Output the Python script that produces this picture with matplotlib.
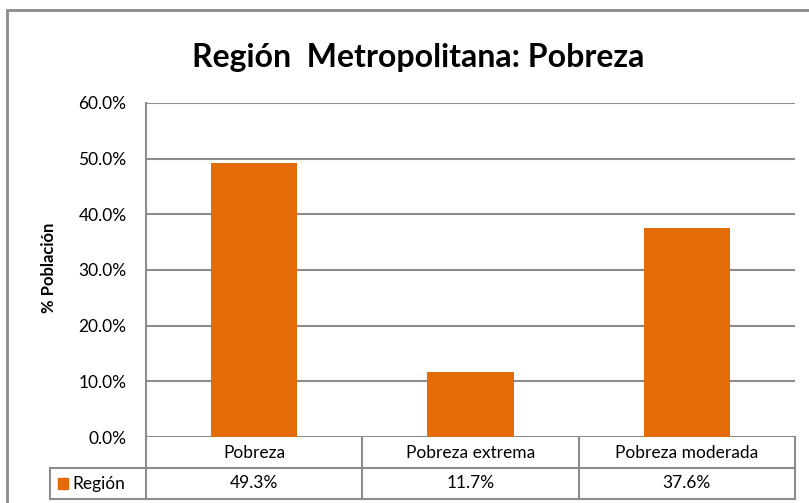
import matplotlib
matplotlib.use("Agg")
import matplotlib.pyplot as plt
import matplotlib.transforms as mtransforms
from matplotlib.patches import Rectangle

plt.rcParams['font.family'] = ['Lato', 'DejaVu Sans']

# datos
categorias = ['Pobreza', 'Pobreza extrema', 'Pobreza moderada']
valores = [0.493, 0.117, 0.376]
serie = 'Región'
yticks = [0.0, 0.1, 0.2, 0.3, 0.4, 0.5, 0.6]

naranja = '#E36C09'
gris = '#8C8C8C'

W, H = 809, 503
fig = plt.figure(figsize=(W / 100, H / 100), dpi=100)
ax = fig.add_axes([146 / W, (H - 437) / H, (795 - 146) / W, (437 - 103) / H])

x = range(len(categorias))
ax.bar(x, valores, width=0.4, color=naranja, zorder=3)
ax.set_xlim(-0.5, len(categorias) - 0.5)
ax.set_ylim(0, 0.6)
ax.set_yticks(yticks)
ax.set_yticklabels(['%.1f%%' % (v * 100) for v in yticks], fontsize=12.5)
ax.tick_params(axis='y', length=0, pad=14)
ax.set_xticks([])
ax.grid(axis='y', color=gris, lw=1.5, zorder=0)
for s in ['top', 'right', 'bottom']:
    ax.spines[s].set_visible(False)
ax.spines['left'].set_color(gris)
ax.spines['left'].set_linewidth(1.5)

# tabla de datos bajo el gráfico
tr = mtransforms.blended_transform_factory(ax.transData, ax.transAxes)
h = 31 / 334.0
n = len(categorias)
izq = -0.5 - 96 / 216.0
kw = dict(color=gris, lw=1.5, transform=tr, clip_on=False)
ax.plot([-0.5, -0.5], [0, -2 * h], **kw)
for i in range(n):
    ax.plot([i + 0.5, i + 0.5], [0, -2 * h], **kw)
ax.plot([izq, izq], [-h, -2 * h], **kw)
ax.plot([izq, n - 0.5], [-h, -h], **kw)
ax.plot([izq, n - 0.5], [-2 * h, -2 * h], **kw)
for i, (c, v) in enumerate(zip(categorias, valores)):
    ax.text(i, -h / 2, c, ha='center', va='center', fontsize=12.5, transform=tr)
    ax.text(i, -1.5 * h, '%.1f%%' % (v * 100), ha='center', va='center',
            fontsize=12.5, transform=tr)
ax.add_patch(Rectangle((izq + 8 / 216.0, -1.5 * h - 5.5 / 334), 10 / 216.0, 11 / 334,
                       color=naranja, transform=tr, clip_on=False))
ax.text(izq + 22 / 216.0, -1.5 * h, serie, ha='left', va='center', fontsize=12.5,
        transform=tr)

fig.text(418 / W, 1 - 58 / H, 'Región  Metropolitana: Pobreza', ha='center',
         va='center', fontsize=23, fontweight='bold')
fig.text(49 / W, 1 - 268 / H, '% Población', ha='center', va='center',
         rotation=90, fontsize=12, fontweight='bold')

# borde exterior
fig.patches.append(Rectangle((7 / W, -0.1), 1.2, 1.1 - 9.5 / H, fill=False,
                             edgecolor=gris, lw=2, transform=fig.transFigure))

fig.savefig('out.png', dpi=100)
